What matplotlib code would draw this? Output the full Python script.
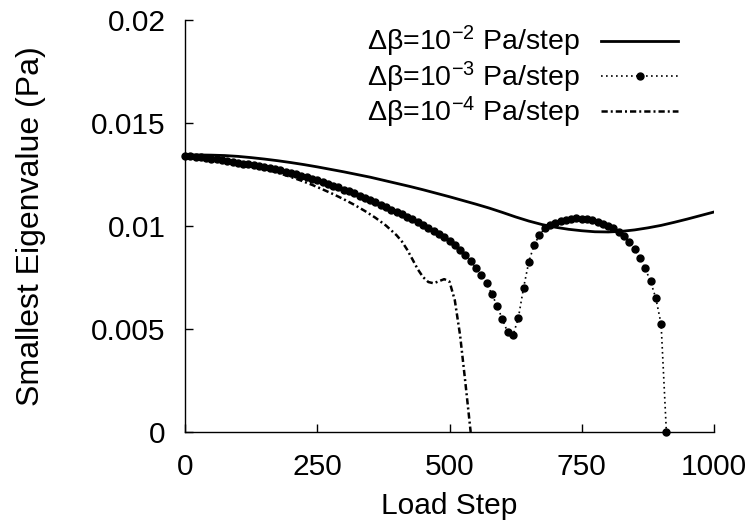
import numpy as np
import matplotlib
matplotlib.use("Agg")
import matplotlib.pyplot as plt

plt.rcParams['font.family'] = ['Liberation Sans', 'DejaVu Sans']
plt.rcParams['mathtext.fontset'] = 'custom'
plt.rcParams['mathtext.rm'] = 'Liberation Sans'
plt.rcParams['mathtext.it'] = 'Liberation Sans:italic'
plt.rcParams['mathtext.default'] = 'regular'

# --- data -------------------------------------------------------------
# Δβ = 1e-2 Pa/step (solid)
steps_a = [0, 25, 50, 75, 100, 125, 150, 175, 200, 225, 250, 275, 300, 325, 350,
           375, 400, 425, 450, 475, 500, 525, 550, 575, 600, 625, 650, 675, 700,
           725, 750, 775, 800, 825, 850, 875, 900, 925, 950, 975, 1000]
eig_a = [0.01345, 0.01345, 0.01344, 0.01342, 0.01338, 0.01332, 0.01325, 0.01317,
         0.01308, 0.01298, 0.01287, 0.01275, 0.01263, 0.01250, 0.01237, 0.01222,
         0.01207, 0.01192, 0.01176, 0.01159, 0.01142, 0.01124, 0.01106, 0.01087,
         0.01066, 0.01044, 0.01024, 0.01007, 0.00994, 0.00984, 0.00977, 0.00972,
         0.00971, 0.00974, 0.00981, 0.00991, 0.01003, 0.01018, 0.01034, 0.01051,
         0.01068]

# Δβ = 1e-3 Pa/step (dotted with markers)
steps_b = list(range(0, 911, 10))
eig_b = [0.01340, 0.01339, 0.01337, 0.01334, 0.01331, 0.01327, 0.01323, 0.01319,
         0.01315, 0.01311, 0.01307, 0.01303, 0.01299, 0.01295, 0.01290, 0.01285,
         0.01280, 0.01275, 0.01270, 0.01264, 0.01258, 0.01251, 0.01244, 0.01237,
         0.01230, 0.01222, 0.01214, 0.01205, 0.01196, 0.01187, 0.01177, 0.01168,
         0.01158, 0.01148, 0.01138, 0.01127, 0.01116, 0.01104, 0.01092, 0.01080,
         0.01068, 0.01056, 0.01044, 0.01032, 0.01019, 0.01006, 0.00992, 0.00978,
         0.00963, 0.00948, 0.00929, 0.00908, 0.00883, 0.00859, 0.00832, 0.00794,
         0.00762, 0.00721, 0.00670, 0.00612, 0.00547, 0.00484, 0.00469, 0.00552,
         0.00700, 0.00827, 0.00908, 0.00956, 0.00989, 0.01005,
         0.01016, 0.01023, 0.01030, 0.01035, 0.01037, 0.01036, 0.01033, 0.01027,
         0.01019, 0.01010, 0.01000, 0.00988, 0.00972, 0.00951, 0.00924, 0.00889,
         0.00845, 0.00794, 0.00731, 0.00650, 0.00524, 0.00000]

# Δβ = 1e-4 Pa/step (dash-dot)
steps_c = [0, 20, 40, 60, 80, 100, 120, 140, 160, 180, 200, 220, 240, 260, 280,
           300, 320, 340, 360, 380, 400, 410, 420, 430, 440, 450, 460, 470, 480,
           490, 500, 510, 520, 530, 540]
eig_c = [0.01340, 0.01336, 0.01330, 0.01322, 0.01314, 0.01305, 0.01295, 0.01283,
         0.01270, 0.01255, 0.01238, 0.01220, 0.01200, 0.01178, 0.01155, 0.01130,
         0.01103, 0.01073, 0.01040, 0.01002, 0.00955, 0.00925, 0.00885, 0.00838,
         0.00790, 0.00752, 0.00728, 0.00722, 0.00732, 0.00742, 0.00730, 0.00640,
         0.00470, 0.00240, 0.00000]

labels = [r'Δβ=10$^{-2}$ Pa/step', r'Δβ=10$^{-3}$ Pa/step', r'Δβ=10$^{-4}$ Pa/step']
xticks = [0, 250, 500, 750, 1000]
yticks = [0, 0.005, 0.01, 0.015, 0.02]
yticklabels = ['0', '0.005', '0.01', '0.015', '0.02']

# --- plot -------------------------------------------------------------
fig = plt.figure(figsize=(7.53, 5.23), dpi=100)
ax = fig.add_axes([185/753, 91/523, 529/753, 412/523])

ax.plot(steps_a, eig_a, color='black', lw=2.0, ls='-', label=labels[0])
ax.plot(steps_b, eig_b, color='black', lw=1.2, ls=(0, (1, 2)), marker='o',
        markersize=5, label=labels[1], clip_on=False)
ax.plot(steps_c, eig_c, color='black', lw=1.8, ls=(0, (2.5, 1.2, 0.8, 1.2)),
        label=labels[2])

ax.set_xlim(0, 1000)
ax.set_ylim(0, 0.02)
ax.set_xticks(xticks)
ax.set_xticklabels([str(t) for t in xticks])
ax.set_yticks(yticks)
ax.set_yticklabels(yticklabels)

for s in ['top', 'right']:
    ax.spines[s].set_visible(False)
for s in ['left', 'bottom']:
    ax.spines[s].set_linewidth(1.0)

ax.tick_params(direction='in', length=6, width=1, labelsize=21.5)
ax.tick_params(axis='x', pad=15)
ax.tick_params(axis='y', pad=14)
ax.set_xlabel('Load Step', fontsize=21.5, labelpad=8)
ax.set_ylabel('Smallest Eigenvalue (Pa)', fontsize=23, labelpad=32)

ax.legend(loc='upper right', bbox_to_anchor=(0.932, 0.99), frameon=False,
          markerfirst=False, numpoints=1, fontsize=20.5, handlelength=2.7,
          handletextpad=0.75, labelspacing=0.0, borderaxespad=0, borderpad=0)

fig.savefig('out.png', dpi=100)
